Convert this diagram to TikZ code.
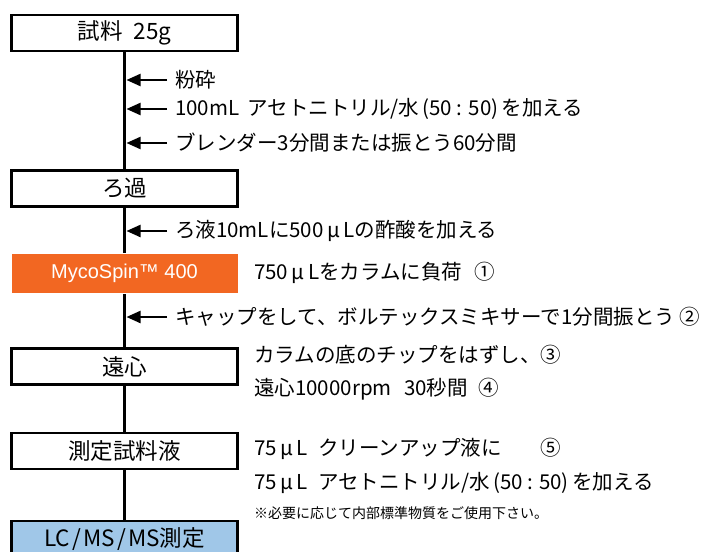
\documentclass[tikz,border=0pt]{standalone}
\usepackage{fontspec}
\setmainfont{Noto Sans CJK JP}
\newfontfamily\latinsans{Liberation Sans}
\usetikzlibrary{arrows.meta}
\definecolor{spinorange}{RGB}{242,103,34}
\definecolor{lcblue}{RGB}{160,199,232}

\begin{document}
\begin{tikzpicture}[x=1pt,y=-1pt,
  stepbox/.style={draw,line width=2.5pt,minimum width=226pt,minimum height=36pt,inner sep=0pt,font=\fontsize{22.5}{22}\selectfont},
  note/.style={anchor=west,inner sep=0pt,font=\fontsize{20.5}{21}\selectfont},
  flow/.style={line width=2.5pt},
  feed/.style={line width=2.2pt,-{Triangle[length=14pt,width=12pt]},shorten <=8pt,shorten >=2pt}]
\clip (0,0) rectangle (708,551);

% Steps
\node[stepbox] (sample) at (124.5,33) {試料\hspace{0.5em}25g};
\node[stepbox] (filter) at (124.5,188.5) {ろ過};
\node[stepbox,draw=none,fill=spinorange,text=white,minimum height=39pt,font=\latinsans\fontsize{20}{20}\selectfont] (spin) at (124.5,273.5) {MycoSpin™ 400};
\node[stepbox] (centri) at (124.5,366.5) {遠心};
\node[stepbox] (testsol) at (124.5,451) {測定試料液};
\node[stepbox,fill=lcblue] (lcms) at (124.5,539) {LC\hspace{0.1em}/\hspace{0.1em}MS\hspace{0.1em}/\hspace{0.1em}MS測定};

% Main line
\draw[flow] (sample) -- (filter);
\draw[flow] (filter) -- (spin);
\draw[flow] (spin) -- (centri);
\draw[flow] (centri) -- (testsol);
\draw[flow] (testsol) -- (lcms);

% Additions
\node[note] (grind) at (175,80) {粉砕};
\node[note] (solvent) at (175,109) {100mL\hspace{0.4em}アセトニトリル/水\,(50 : 50)\,を加える};
\node[note] (blend) at (175,143) {ブレンダー3分間または振とう60分間};
\node[note] (acid) at (175,231) {ろ液10mLに500\,μ\,Lの酢酸を加える};
\node[note] (shake) at (175,317) {キャップをして、ボルテックスミキサーで1分間振とう ②};
\foreach \t/\s in {grind/sample,solvent/sample,blend/sample,acid/filter,shake/spin}
  \draw[feed] (\t.west) -- (\t.west -| \s.south);

% Side notes
\node[note] (load) at (254,273) {750\,μ\,Lをカラムに負荷\hspace{0.6em}①};
\node[note] (tip) at (254,355) {カラムの底のチップをはずし、③};
\node[note] (spinrpm) at (254,389) {遠心10000rpm\hspace{0.6em}30秒間\hspace{0.5em}④};
\node[note] (clean) at (254,449) {75\,μ\,L\hspace{0.5em}クリーンアップ液に\hspace{1.9em}⑤};
\node[note] (dilute) at (254,483) {75\,μ\,L\hspace{0.5em}アセトニトリル/水\,(50 : 50)\,を加える};
\node[note,font=\fontsize{14}{14}\selectfont] (istd) at (254,513) {※必要に応じて内部標準物質をご使用下さい。};
\end{tikzpicture}
\end{document}
